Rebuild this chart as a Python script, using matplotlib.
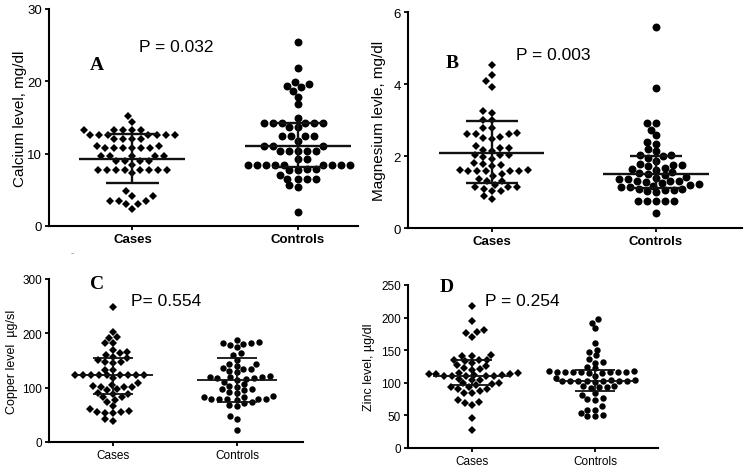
import numpy as np
import matplotlib
matplotlib.use("Agg")
import matplotlib.pyplot as plt

GROUPS = ["Cases", "Controls"]

# A - calcium, mg/dl
calciumCases = [15.2, 14.4, 13.3, 13.3, 13.3, 13.3, 13.3,
                12.6, 12.6, 12.6, 12.6, 12.6, 12.6, 12.6, 12.0, 12.0, 12.0, 12.0,
                11.1, 11.1, 10.8, 10.8, 10.8, 10.8, 10.8, 10.8,
                9.7, 9.7, 9.7, 9.7, 9.7, 9.0, 9.0, 9.0, 9.0, 8.5,
                7.8, 7.8, 7.8, 7.8, 7.8, 7.8, 7.8, 7.8, 7.3,
                4.8, 4.1, 4.1, 3.5, 3.5, 3.5, 3.0, 3.0, 2.3]
calciumControls = [25.4, 21.9, 19.9, 19.7, 19.4, 19.2, 18.7, 17.9, 16.8, 15.0,
                   14.3, 14.3, 14.3, 14.3, 14.3, 14.3, 13.7, 13.7,
                   12.4, 12.4, 12.4, 12.4, 11.8, 11.0, 11.0, 11.0,
                   10.4, 10.4, 10.4, 10.4, 10.4, 9.2, 9.2,
                   8.5, 8.5, 8.5, 8.5, 8.5, 8.5, 8.5, 8.5, 8.5, 7.9, 7.9, 7.7, 7.7,
                   7.1, 6.5, 6.5, 6.5, 6.5, 5.6, 5.4, 2.0]
calciumMean = [9.3, 11.0]
calciumLow = [5.9, 8.2]
calciumHigh = [12.7, 14.3]

# B - magnesium, mg/dl
magnesiumCases = [4.53, 4.26, 4.07, 3.92, 3.25, 3.19, 3.0, 3.0, 2.77, 2.77,
                  2.64, 2.61, 2.61, 2.61, 2.49, 2.47, 2.54, 2.29,
                  2.22, 2.15, 2.18, 2.22, 2.03, 1.97, 1.93, 2.03, 2.03,
                  1.78, 1.80, 1.72, 1.74, 1.6, 1.6,
                  1.57, 1.57, 1.57, 1.57, 1.57, 1.44, 1.50, 1.37, 1.3, 1.3,
                  1.2, 1.14, 1.14, 1.14, 1.09, 1.02, 1.02, 0.89, 0.81]
magnesiumControls = [5.59, 3.89, 2.91, 2.91, 2.72, 2.57, 2.40, 2.34, 2.20, 2.13,
                     2.04, 1.95, 1.99, 2.04,
                     1.86, 1.78, 1.74, 1.72, 1.64, 1.62, 1.66, 1.74, 1.55, 1.52,
                     1.46, 1.49, 1.42, 1.36, 1.30, 1.30, 1.28, 1.30, 1.36, 1.40,
                     1.25, 1.22, 1.2, 1.18, 1.14, 1.14, 1.09, 1.08, 1.06, 1.06, 1.02, 1.0,
                     0.75, 0.75, 0.75, 0.75, 0.75, 0.42]
magnesiumMean = [2.09, 1.49]
magnesiumLow = [1.25, 1.12]
magnesiumHigh = [2.98, 2.01]

# C - copper
copperCases = [249, 202, 193, 191, 182, 182, 169, 165,
               163, 161, 157, 154, 151, 148, 148, 146, 133, 133,
               123, 123, 123, 123, 123, 123, 123, 123, 123, 117,
               108, 105, 103, 101, 101, 101, 97,
               95, 90, 88, 88, 82, 82, 77, 73,
               66, 60, 57, 56, 55, 54, 53, 42, 39]
copperControls = [187, 184, 183, 183, 180, 178, 174, 163, 160, 151,
                  143, 143, 140, 137, 135, 134, 131, 128,
                  122, 120, 119, 119, 117, 117, 116, 114, 111,
                  106, 103, 102, 98, 97, 95, 92, 91,
                  84, 83, 82, 80, 80, 80, 80, 79, 78, 74, 71, 69, 66,
                  47, 42, 23]
copperMean = [123, 114]
copperLow = [88, 74]
copperHigh = [154, 155]

# D - zinc
zincCases = [218, 195, 181, 178, 176, 171,
             142, 141, 141, 135, 135, 135, 133, 130,
             127, 126, 123, 121, 120,
             115, 115, 114, 113, 113, 112, 112, 111, 111, 111, 110, 110,
             106, 105, 104,
             99, 99, 98, 97, 94, 93, 91, 91, 87, 85, 85,
             74, 70, 69, 66, 46, 28]
zincControls = [198, 192, 184, 161, 151, 147, 142, 137, 132, 131, 124, 122,
                118, 118, 117, 117, 117, 117, 116, 116, 116, 115, 115, 110, 108,
                104, 104, 103, 103, 103, 103, 102, 102, 102, 101,
                95, 95, 93, 93, 92, 85, 81, 76, 75, 74,
                64, 59, 59, 54, 51, 49, 49]
zincMean = [111, 103]
zincLow = [96, 88]
zincHigh = [135, 119]

FIG_W, FIG_H = 750, 477


def swarmOffsets(values, ppuY, width, height):
    """
    Horizontal offsets in pixels for a dot plot. Each point (lowest first) goes as close to the
    centre line as it can without overlapping points already placed (elliptic footprint).
    """
    y = np.asarray(values, dtype=float) * ppuY
    offsets = np.zeros(len(y))
    placed = []
    for i in np.argsort(y, kind="stable"):
        near = [(px, py) for px, py in placed if abs(py - y[i]) < height]
        candidates = [0.0]
        for px, py in near:
            dx = width * np.sqrt(1 - ((py - y[i]) / height) ** 2)
            candidates += [px - dx, px + dx]
        candidates.sort(key=abs)
        for c in candidates:
            if all(((c - px) / width) ** 2 + ((y[i] - py) / height) ** 2 >= 1 - 1e-9 for px, py in near):
                offsets[i] = c
                break
        placed.append((offsets[i], y[i]))
    return offsets


def drawPanel(fig, box, xlim, ylim, yticks, data, mean, low, high, ylabel, labelRight,
              small=False):
    left, top, right, bottom = box
    ax = fig.add_axes([left / FIG_W, 1 - bottom / FIG_H, (right - left) / FIG_W, (bottom - top) / FIG_H])
    ax.set_xlim(xlim)
    ax.set_ylim(ylim)
    ppuX = (right - left) / (xlim[1] - xlim[0])
    ppuY = (bottom - top) / (ylim[1] - ylim[0])

    if small:
        msD, msO, dw, dh, lw, fs, lfs = 3.6, 4.6, 8.0, 5.6, 1.3, 8.5, 9
    else:
        msD, msO, dw, dh, lw, fs, lfs = 4.2, 5.7, 9.0, 6.8, 1.7, 9.5, 11

    for pos, (vals, marker, ms) in enumerate([(data[0], "D", msD), (data[1], "o", msO)]):
        xs = pos + swarmOffsets(vals, ppuY, dw, dh) / ppuX
        ax.plot(xs, vals, ls="none", marker=marker, ms=ms, color="black", mew=0, clip_on=False, zorder=2)
        ax.hlines(mean[pos], pos - 0.32, pos + 0.32, color="#111111", lw=lw, zorder=3)
        ax.vlines(pos, low[pos], high[pos], color="#111111", lw=lw, zorder=3)
        ax.hlines([low[pos], high[pos]], pos - 0.16, pos + 0.16, color="#111111", lw=lw, zorder=3)

    for side in ["top", "right"]:
        ax.spines[side].set_visible(False)
    for side in ["left", "bottom"]:
        ax.spines[side].set_linewidth(1.5)
    ax.set_xticks([0, 1])
    ax.set_xticklabels(GROUPS, fontsize=fs, fontweight="normal" if small else "bold")
    ax.set_yticks(yticks)
    ax.set_yticklabels([str(t) for t in yticks], fontsize=fs)
    ax.tick_params(length=3, width=1.3, pad=2)
    ax.set_ylabel(ylabel, fontsize=lfs)
    # the label's anchor is its right edge once rotated
    ax.yaxis.set_label_coords((labelRight - left) / (right - left), 0.5)
    return ax


def main():
    plt.rcParams["font.family"] = ["Liberation Sans", "DejaVu Sans"]
    fig = plt.figure(figsize=(FIG_W / 100, FIG_H / 100), dpi=100)

    drawPanel(fig, (49, 10, 358, 227), (-0.504, 1.362), (0, 30), [0, 10, 20, 30],
              (calciumCases, calciumControls), calciumMean, calciumLow, calciumHigh,
              "Calcium level, mg/dl", 27)
    drawPanel(fig, (408, 13, 742, 229), (-0.511, 1.524), (0, 6), [0, 2, 4, 6],
              (magnesiumCases, magnesiumControls), magnesiumMean, magnesiumLow, magnesiumHigh,
              "Magnesium levle, mg/dl", 386)
    drawPanel(fig, (49, 280, 303, 443), (-0.517, 1.533), (0, 300), [0, 100, 200, 300],
              (copperCases, copperControls), copperMean, copperLow, copperHigh,
              "Copper level  µg/sl", 18, small=True)
    drawPanel(fig, (408, 286, 658, 449), (-0.52, 1.51), (0, 250), [0, 50, 100, 150, 200, 250],
              (zincCases, zincControls), zincMean, zincLow, zincHigh,
              "Zinc level, µg/dl", 375, small=True)

    # panel letters and p-values (pixel positions of their centres)
    for letter, x, y in [("A", 97, 66), ("B", 452, 63), ("C", 97, 285), ("D", 447, 287)]:
        fig.text(x / FIG_W, 1 - y / FIG_H, letter, family="Liberation Serif", fontweight="bold",
                 fontsize=14, ha="center", va="center")
    for ptext, x, y in [("P = 0.032", 176, 47), ("P = 0.003", 553, 55),
                        ("P= 0.554", 166, 302), ("P = 0.254", 522, 302)]:
        fig.text(x / FIG_W, 1 - y / FIG_H, ptext, fontsize=12.5, ha="center", va="center")
    fig.text(72 / FIG_W, 1 - 253 / FIG_H, "-", fontsize=7, color="#888888", ha="center", va="center")

    fig.savefig("out.png", dpi=100)


if __name__ == '__main__':
    main()
